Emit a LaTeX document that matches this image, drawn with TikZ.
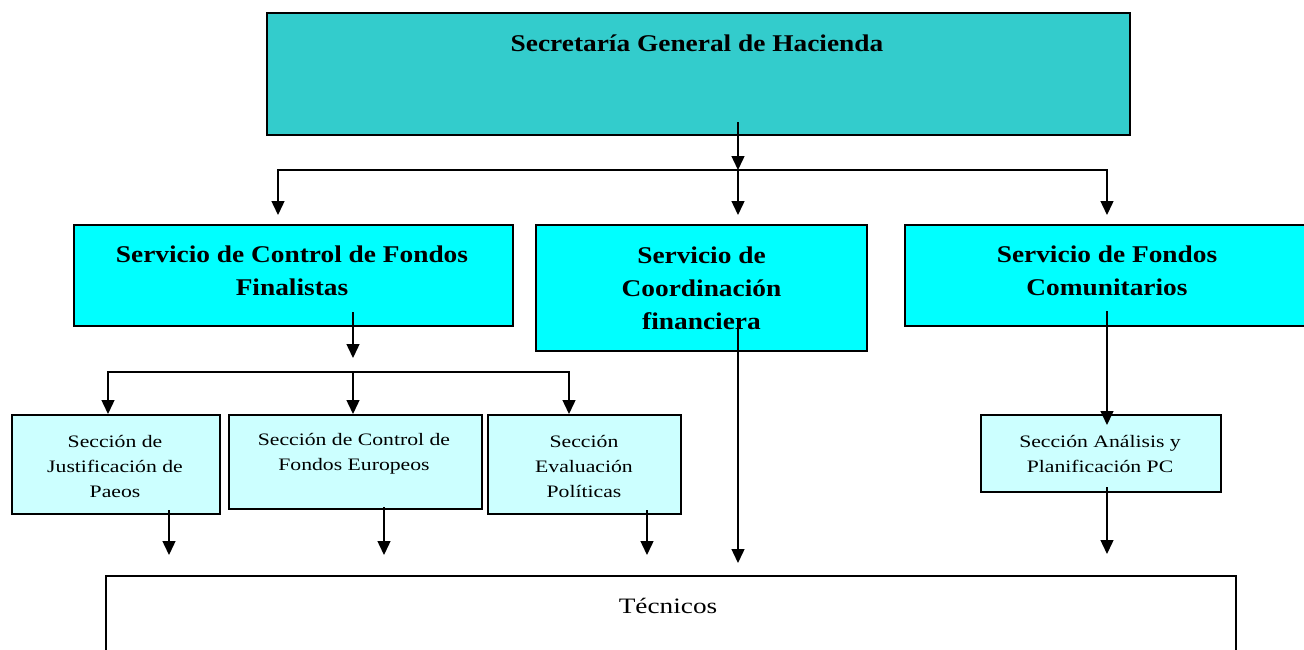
\documentclass[tikz,border=0pt]{standalone}
\usepackage{fontspec}
\setmainfont{Liberation Serif}[FakeStretch=1.14]
\newfontfamily\widereg{Liberation Serif}[FakeStretch=1.24]
\usetikzlibrary{arrows.meta}
\definecolor{topfill}{HTML}{33CCCC}
\definecolor{midfill}{HTML}{00FFFF}
\definecolor{lowfill}{HTML}{CCFFFF}
\begin{document}
\begin{tikzpicture}[x=1pt,y=-1pt,
  box/.style={draw=black, line width=2pt, inner sep=0pt, anchor=north west, align=center},
  conn/.style={line width=1.4pt, -{Triangle[length=14pt,width=13pt]}},
  ttop/.style={font=\bfseries\fontsize{24}{30}\selectfont},
  tmid/.style={font=\bfseries\fontsize{24}{33}\selectfont},
  tlow/.style={font=\widereg\fontsize{17.5}{25}\selectfont},
  ttec/.style={font=\widereg\fontsize{22}{26}\selectfont}]
\useasboundingbox (0,0) rectangle (1304,649);
% top
\node[box, fill=topfill, minimum width=863pt, minimum height=122pt] (top) at (266,12) {};
\node[ttop] (toptext) at (697,43) {Secretaría General de Hacienda};
% level 2
\node[box, fill=midfill, minimum width=439pt, minimum height=101pt] (A) at (73,224) {};
\node[tmid, align=center] (Atext) at (292,271) {Servicio de Control de Fondos\\Finalistas};
\node[box, fill=midfill, minimum width=331pt, minimum height=126pt, tmid] (B) at (535,224)
  {Servicio de\\Coordinación\\financiera};
\node[box, fill=midfill, minimum width=420pt, minimum height=101pt] (C) at (904,224) {};
\node[tmid, align=center] (Ctext) at (1107,271) {Servicio de Fondos\\Comunitarios};
% level 3
\node[box, fill=lowfill, minimum width=208pt, minimum height=99pt] (S1) at (11,414) {};
\node[tlow, align=center] (S1text) at (115,466) {Sección de\\Justificación de\\Paeos};
\node[box, fill=lowfill, minimum width=253pt, minimum height=94pt] (S2) at (228,414) {};
\node[tlow, align=center] (S2text) at (354,454) {Sección de Control de\\Fondos Europeos};
\node[box, fill=lowfill, minimum width=193pt, minimum height=99pt] (S3) at (487,414) {};
\node[tlow, align=center] (S3text) at (584,466) {Sección\\Evaluación\\Políticas};
\node[box, fill=lowfill, minimum width=240pt, minimum height=77pt] (SAP) at (980,414) {};
\node[tlow, align=center] (SAPtext) at (1100,454) {Sección Análisis y\\Planificación PC};
% tecnicos
\node[box, fill=white, minimum width=1130pt, minimum height=100pt] (T) at (105,575) {};
\node[ttec] (Ttext) at (668,606) {Técnicos};
% connectors level 1 -> 2
\coordinate (s0) at (738,122);
\coordinate (j0) at (738,170);
\coordinate (j1) at (278,170);
\coordinate (j3) at (1107,170);
\draw[conn] (s0) -- (j0);
\draw[conn, shorten >=9pt] (j0) -| (A.north -| j1);
\draw[conn, shorten >=9pt] (j0) -| (C.north -| j3);
\draw[conn, shorten >=9pt] (j0) -- (B.north -| j0);
% connectors A -> sections
\coordinate (a0) at (353,312);
\coordinate (k0) at (353,372);
\coordinate (k1) at (108,372);
\coordinate (k3) at (569,372);
\draw[conn, shorten >=14pt] (a0) -- (k0);
\draw[conn] (k0) -| (S1.north -| k1);
\draw[conn] (k0) -| (S3.north -| k3);
\draw[conn] (k0) -- (S2.north -| k0);
% sections -> tecnicos
\coordinate (p1) at (169,510);
\coordinate (p2) at (384,507);
\coordinate (p3) at (647,510);
\draw[conn, shorten >=20pt] (p1) -- (T.north -| p1);
\draw[conn, shorten >=20pt] (p2) -- (T.north -| p2);
\draw[conn, shorten >=20pt] (p3) -- (T.north -| p3);
% B -> tecnicos
\coordinate (q0) at (738,318);
\draw[conn, shorten >=12pt] (q0) -- (T.north -| q0);
% C -> SAP -> tecnicos
\coordinate (c0) at (1107,311);
\draw[conn, shorten >=-11pt] (c0) -- (SAP.north -| c0);
\coordinate (r0) at (1107,487);
\draw[conn, shorten >=21pt] (r0) -- (T.north -| r0);
\end{tikzpicture}
\end{document}
